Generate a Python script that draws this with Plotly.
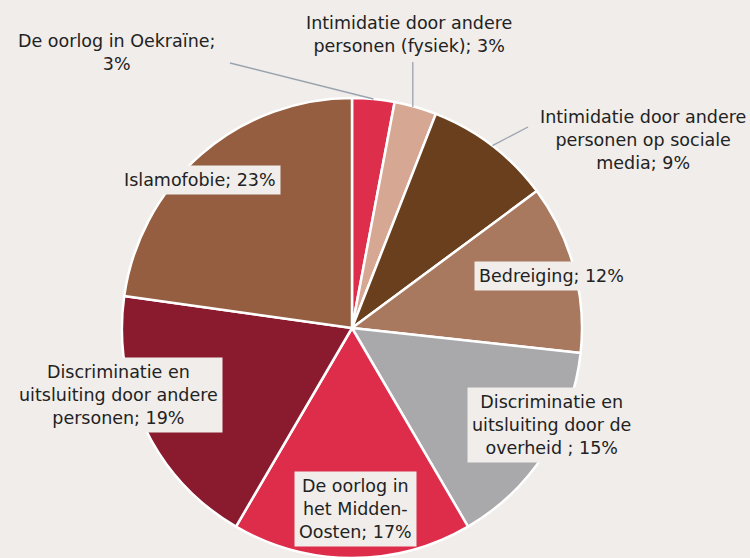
import math
import plotly.graph_objects as go

labels = [
    "De oorlog in Oekraïne",
    "Intimidatie door andere personen (fysiek)",
    "Intimidatie door andere personen op sociale media",
    "Bedreiging",
    "Discriminatie en uitsluiting door de overheid",
    "De oorlog in het Midden-Oosten",
    "Discriminatie en uitsluiting door andere personen",
    "Islamofobie",
]
values = [3, 3, 9, 12, 15, 17, 19, 23]
colors = ["#DD2E4C", "#D6A792", "#6A3F1E", "#A8785F", "#A9A8AA", "#DD2D4B", "#8A1A2D", "#955E40"]
label_texts = [
    "De oorlog in Oekraïne;<br>3%",
    "Intimidatie door andere<br>personen (fysiek); 3%",
    "Intimidatie door andere<br>personen op sociale<br>media; 9%",
    "Bedreiging; 12%",
    "Discriminatie en<br>uitsluiting door de<br>overheid ; 15%",
    "De oorlog in<br>het Midden-<br>Oosten; 17%",
    "Discriminatie en<br>uitsluiting door andere<br>personen; 19%",
    "Islamofobie; 23%",
]
# label centres in pixels, and whether they sit in a box over the pie
label_pos = [(116, 53), (409, 34), (643, 140), (551, 276), (551, 425), (355, 509), (118, 395), (200, 180)]
boxed = [False, False, False, True, True, True, True, True]

W, H = 750, 558
BG = "#F0EDEA"
cx, cy, r = 352, 329, 231

fig = go.Figure(go.Pie(
    labels=labels, values=values, sort=False, direction="clockwise", rotation=0,
    marker=dict(colors=colors, line=dict(color="#FFFFFF", width=2.5)),
    textinfo="none", hoverinfo="label+value",
    domain=dict(x=[(cx - r) / W, (cx + r) / W], y=[0, 1 - (cy - r) / H]),
    showlegend=False,
))

font = dict(family="DejaVu Sans", size=17.5, color="#222222")
for txt, (px, py), b in zip(label_texts, label_pos, boxed):
    fig.add_annotation(
        x=px / W, y=1 - py / H, xref="paper", yref="paper", text=txt,
        xanchor="center", yanchor="middle",
        showarrow=False, font=font, align="center",
        bgcolor=BG if b else None, borderpad=4,
    )

# leader lines from slice middles to the outer labels
total = sum(values)
cum = 0
mids = []
for v in values:
    th = 2 * math.pi * (cum + v / 2) / total
    mids.append((cx + r * math.sin(th), cy - r * math.cos(th)))
    cum += v
line_style = dict(color="#9AA3AE", width=1.3)
ends = {0: [(230, 63)], 1: [(None, 62)], 2: [(528, 127)]}
for i, pts in ends.items():
    x0, y0 = mids[i]
    if i == 1:
        x0 -= 3
    for (x1, y1) in pts:
        if x1 is None:
            x1 = x0
        fig.add_shape(type="line", xref="paper", yref="paper",
                      x0=x0 / W, y0=1 - y0 / H, x1=x1 / W, y1=1 - y1 / H, line=line_style)

fig.update_layout(width=W, height=H, margin=dict(l=0, r=0, t=0, b=0),
                  paper_bgcolor=BG, plot_bgcolor=BG)
fig.write_html("out.html", config={"displayModeBar": False},
               post_script="document.body.style.margin='0';document.body.style.background='%s';" % BG)
